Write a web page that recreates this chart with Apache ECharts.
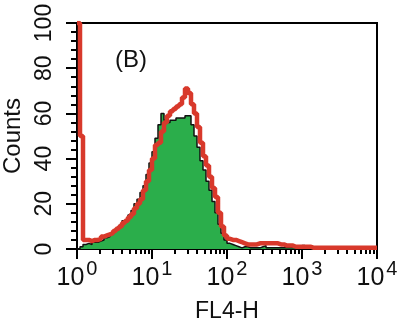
<!DOCTYPE html>
<html lang="en">

<head>
    <meta charset="UTF-8">
    <title>FL4-H histogram</title>
    <script src="https://cdn.jsdelivr.net/npm/echarts@6/dist/echarts.min.js"></script>
    <style>
        html,
        body {
            margin: 0;
            padding: 0;
            background: #fff;
        }
        #main {
            width: 400px;
            height: 323px;
        }
    </style>
</head>

<body>
    <div id="main"></div>
    <script>
        // channels: 25 per decade, 10^0 .. 10^4
        var channelsPerDecade = 25;
        var decadeLabels = ['0', '1', '2', '3', '4'];

        // red overlay histogram (counts per channel)
        var redCounts = [
            100, 50, 4, 4, 3.5, 4, 4, 4.5, 5.5, 6,
            6.5, 7, 8, 9, 10, 11.5, 12.5, 14, 15.5, 18,
            20, 22, 26, 30, 35, 40, 46, 47, 52, 56,
            59, 61, 62, 63, 64, 67, 71, 69, 64, 60,
            54, 47, 41, 37, 32, 27, 23, 16, 10, 6,
            4.5, 4, 4, 3.5, 3, 2.5, 2, 2, 2, 2,
            2.5, 2.5, 2.5, 2.5, 2.5, 2.5, 2.5, 2, 2, 1.5,
            1.5, 1.5, 1, 1, 1, 1, 1, 1, 0.5, 0.5,
            0.5, 0.5, 0.5, 0.5, 0.5, 0.5, 0.5, 0.5, 0.5, 0.5,
            0.5, 0.5, 0.5, 0.5, 0.5, 0.5, 0.5, 0.5, 0.5, 0.5
        ];
        // green filled histogram (counts per channel)
        var greenCounts = [
            0, 1, 2, 2.5, 2, 3, 3, 3.5, 4, 5,
            5.5, 6.5, 8, 9, 10.5, 12.5, 13, 15, 17, 20,
            22, 25, 28, 33, 38, 43, 49, 55, 60, 57,
            56, 57, 57, 58, 58, 58, 59, 59, 55, 50,
            45, 39, 35, 30, 26, 21, 16, 11, 7, 4,
            2.5, 2, 1.5, 1, 0.5, 1, 1, 0.5, 0.5, 0.5,
            0.5, 1, 1.5, 0.5, 0.5, 0.5, 0.5, 0.5, 0.5, 0.5,
            0.5, 0.5, 0.5, 1, 0.5, 1.5, 0.5, 0.5, 0.5, 0.5,
            1, 0, 0, 0, 0, 0, 0, 0, 0, 0,
            0, 0, 0, 0, 0, 0, 0, 0, 0, 0
        ];

        function toSeries(arr) {
            var out = arr.map(function (v, i) { return [i, v]; });
            out.push([arr.length, arr[arr.length - 1]]);
            return out;
        }

        var xMax = channelsPerDecade * (decadeLabels.length - 1);
        var majorTicks = decadeLabels.map(function (d, i) { return i * channelsPerDecade; });
        var minorTicks = [];
        for (var d = 0; d < decadeLabels.length - 1; d++) {
            for (var k = 2; k <= 9; k++) {
                minorTicks.push(channelsPerDecade * (d + Math.log10(k)));
            }
        }

        var font = 'Liberation Sans';
        var myChart = echarts.init(document.getElementById('main'), null, { renderer: 'canvas' });
        var option = {
            animation: false,
            title: {
                text: '(B)',
                left: 110,
                top: 43,
                textStyle: { fontFamily: font, fontSize: 24, fontWeight: 'normal', color: '#111' }
            },
            grid: {
                left: 77, right: 23, top: 23, bottom: 74,
                outerBoundsMode: 'none',
                containLabel: false,
                show: true,
                borderColor: '#000',
                borderWidth: 2,
                backgroundColor: '#fff'
            },
            xAxis: [{
                type: 'value',
                min: 0,
                max: xMax,
                name: 'FL4-H',
                nameLocation: 'middle',
                nameGap: 51,
                nameTextStyle: { fontFamily: font, fontSize: 23, color: '#111' },
                axisLine: { lineStyle: { color: '#000', width: 2 } },
                axisTick: { customValues: majorTicks, length: 10, lineStyle: { color: '#000', width: 2 } },
                axisLabel: {
                    customValues: majorTicks,
                    margin: 10,
                    formatter: function (v) {
                        return '{b|10}{s|' + decadeLabels[Math.round(v / channelsPerDecade)] + '}';
                    },
                    rich: {
                        b: { fontFamily: font, fontSize: 25, color: '#111', padding: [6, 0, 0, 0] },
                        s: { fontFamily: font, fontSize: 20, color: '#111', padding: [0, 0, 12, 2] }
                    }
                },
                splitLine: { show: false }
            }, {
                type: 'value',
                min: 0,
                max: xMax,
                position: 'bottom',
                axisLine: { show: false },
                axisTick: { customValues: minorTicks, length: 5, lineStyle: { color: '#000', width: 2 } },
                axisLabel: { show: false },
                splitLine: { show: false }
            }],
            yAxis: {
                type: 'value',
                min: 0,
                max: 100,
                interval: 20,
                name: 'Counts',
                nameLocation: 'middle',
                nameGap: 47,
                nameTextStyle: { fontFamily: font, fontSize: 24, color: '#111' },
                axisLine: { show: true, lineStyle: { color: '#000', width: 2 } },
                axisTick: { show: true, length: 11, lineStyle: { color: '#000', width: 2 } },
                minorTick: { show: true, splitNumber: 5, length: 6, lineStyle: { color: '#000', width: 2 } },
                axisLabel: {
                    rotate: 90,
                    margin: 21,
                    fontFamily: font,
                    fontSize: 23,
                    color: '#111'
                },
                splitLine: { show: false }
            },
            series: [{
                name: 'green',
                type: 'line',
                step: 'end',
                symbol: 'none',
                data: toSeries(greenCounts),
                lineStyle: { color: '#111', width: 1.5 },
                areaStyle: { color: '#2bae4b', opacity: 1 },
                z: 2
            }, {
                name: 'red',
                type: 'line',
                step: 'end',
                symbol: 'none',
                data: toSeries(redCounts),
                lineStyle: { color: '#d8392b', width: 4.5 },
                z: 3
            }]
        };
        myChart.setOption(option);
    </script>
</body>

</html>
